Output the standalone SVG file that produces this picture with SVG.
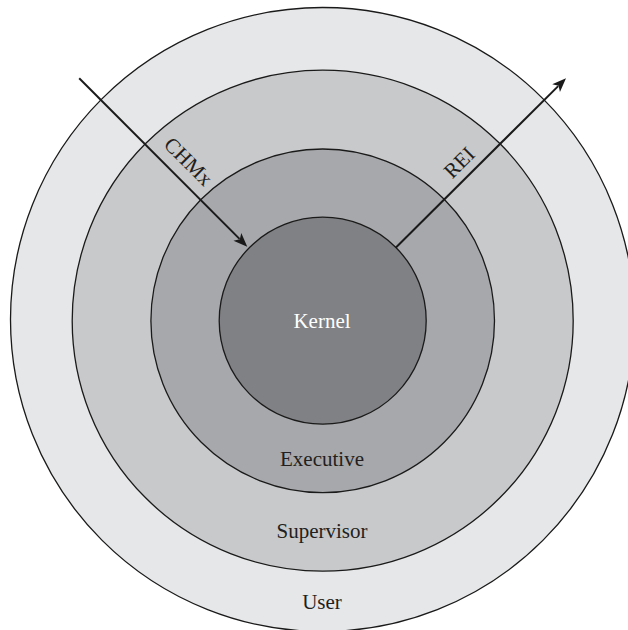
<svg xmlns="http://www.w3.org/2000/svg" width="628" height="630" viewBox="0 0 628 630">
  <defs>
    <marker id="arrow" markerUnits="userSpaceOnUse" markerWidth="14" markerHeight="12" refX="3" refY="6" orient="auto" overflow="visible">
      <path d="M14,6 L0,0.5 L3.5,6 L0,11.5 Z" fill="#1a1a1a"/>
    </marker>
    <style>
      .ring { stroke: #1a1a1a; stroke-width: 1.3; }
      .lbl { font-family: "Liberation Serif", "Times New Roman", serif; font-size: 21px; fill: #231f20; text-anchor: middle; }
      .conn { stroke: #1a1a1a; stroke-width: 2; fill: none; }
    </style>
  </defs>
  <rect width="628" height="630" fill="#ffffff"/>
  <g id="user">
    <circle class="ring" cx="322.5" cy="319.5" r="312" fill="#e6e7e8"/>
    <text class="lbl" x="322" y="609">User</text>
  </g>
  <g id="supervisor">
    <circle class="ring" cx="322.7" cy="320.7" r="250.5" fill="#c8c9cb"/>
    <text class="lbl" x="322" y="538">Supervisor</text>
  </g>
  <g id="executive">
    <circle class="ring" cx="322.7" cy="320.8" r="171.8" fill="#a7a8ab"/>
    <text class="lbl" x="322" y="466">Executive</text>
  </g>
  <g id="kernel">
    <circle class="ring" cx="322.7" cy="320.7" r="103.5" fill="#808184"/>
    <text class="lbl" x="322" y="328" style="fill:#ffffff">Kernel</text>
  </g>
  <g id="connectors">
    <line class="conn" x1="79.2" y1="78.3" x2="239.5" y2="238.9" marker-end="url(#arrow)"/>
    <line class="conn" x1="395.7" y1="247.7" x2="558.2" y2="86.1" marker-end="url(#arrow)"/>
    <text class="lbl" x="183.5" y="166.5" transform="rotate(45 183.5 166.5)">CHMx</text>
    <text class="lbl" x="464.3" y="167.5" transform="rotate(-45 464.3 167.5)">REI</text>
  </g>
</svg>
